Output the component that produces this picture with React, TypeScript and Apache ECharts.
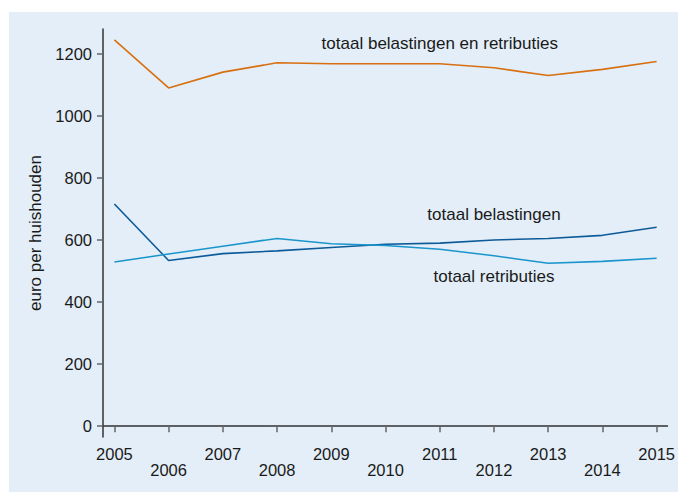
import React, { useEffect, useRef } from "react";
import * as echarts from "echarts";

const years = [2005, 2006, 2007, 2008, 2009, 2010, 2011, 2012, 2013, 2014, 2015];
const totaal = [1245, 1090, 1141, 1171, 1168, 1168, 1168, 1155, 1130, 1150, 1175];
const belastingen = [716, 534, 556, 565, 576, 586, 590, 600, 605, 615, 641];
const retributies = [529, 555, 580, 605, 588, 582, 570, 549, 525, 531, 541];
const yTicks = [0, 200, 400, 600, 800, 1000, 1200];
const labelTotaal = "totaal belastingen en retributies";
const labelBel = "totaal belastingen";
const labelRet = "totaal retributies";

const FONT = "'Liberation Sans', Arial, sans-serif";
const TXT = "#1a1a1a";

function pairs(vals: number[]) {
  return years.map((y, i) => [y, vals[i]]);
}

function annotation(text: string, coord: number[]) {
  return {
    symbol: "circle",
    symbolSize: 0,
    silent: true,
    label: {
      show: true,
      position: "inside",
      formatter: text,
      color: TXT,
      fontSize: 17,
      fontFamily: FONT,
    },
    data: [{ coord }],
  };
}

export default function App() {
  const ref = useRef<HTMLDivElement>(null);
  useEffect(() => {
    if (!ref.current) return;
    const chart = echarts.init(ref.current, null, { renderer: "svg" });
    chart.setOption({
      animation: false,
      backgroundColor: "#E3EEF8",
      grid: { left: 94, right: 10, top: 17, bottom: 55 },
      xAxis: {
        type: "value",
        min: 2004.79,
        max: 2015.2,
        splitLine: { show: false },
        axisLine: { show: true, lineStyle: { color: "#333", width: 1.5 } },
        axisTick: { show: true, length: 6, customValues: years, lineStyle: { color: "#666", width: 1.5 } },
        axisLabel: {
          customValues: years,
          margin: 9,
          color: TXT,
          fontSize: 16.5,
          fontFamily: FONT,
          lineHeight: 16,
          formatter: (v: number) => (Math.round(v) % 2 === 0 ? "\n" + Math.round(v) : String(Math.round(v))),
        },
      },
      yAxis: {
        type: "value",
        min: -35,
        max: 1280,
        name: "euro per huishouden",
        nameLocation: "middle",
        nameGap: 50,
        nameTextStyle: { color: TXT, fontSize: 17, fontFamily: FONT },
        splitLine: { show: false },
        axisLine: { show: true, lineStyle: { color: "#333", width: 1.5 } },
        axisTick: { show: true, length: 6, customValues: yTicks, lineStyle: { color: "#666", width: 1.5 } },
        axisLabel: {
          customValues: yTicks,
          margin: 11,
          color: TXT,
          fontSize: 16.5,
          fontFamily: FONT,
          formatter: (v: number) => String(Math.round(v)),
        },
      },
      series: [
        {
          type: "line",
          data: pairs(totaal),
          showSymbol: false,
          lineStyle: { color: "#D86F10", width: 1.6 },
          itemStyle: { color: "#D86F10" },
          markPoint: annotation(labelTotaal, [2011.0, 1233]),
        },
        {
          type: "line",
          data: pairs(belastingen),
          showSymbol: false,
          lineStyle: { color: "#0D5A99", width: 1.6 },
          itemStyle: { color: "#0D5A99" },
          markPoint: annotation(labelBel, [2012.0, 682]),
        },
        {
          type: "line",
          data: pairs(retributies),
          showSymbol: false,
          lineStyle: { color: "#1B95CC", width: 1.6 },
          itemStyle: { color: "#1B95CC" },
          markPoint: annotation(labelRet, [2012.0, 482]),
        },
      ],
    });
    return () => chart.dispose();
  }, []);
  return (
    <div
      ref={ref}
      style={{ position: "fixed", left: 9, top: 12, width: 669, height: 480 }}
    />
  );
}
